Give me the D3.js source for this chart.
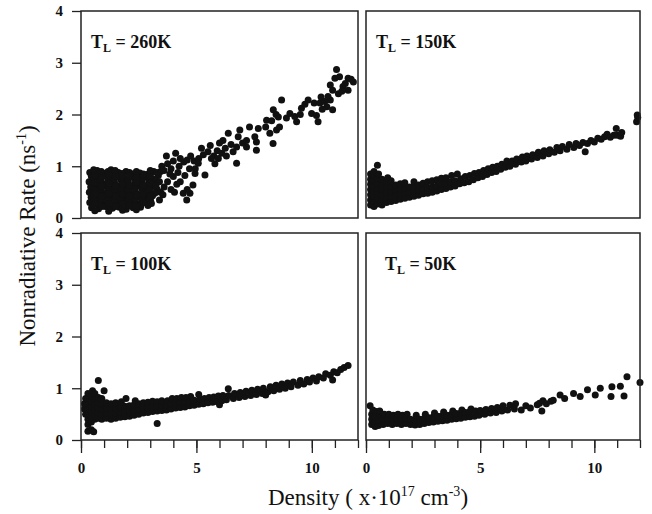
<!DOCTYPE html>
<html>
<head>
<meta charset="utf-8">
<script src="https://cdn.jsdelivr.net/npm/d3@7"></script>
<style>
  body { margin: 0; background: #fff; }
  svg text { font-family: "Liberation Serif", "Times New Roman", "DejaVu Serif", serif; fill: #111; }
</style>
</head>
<body>
<div id="chart"></div>
<script>
// Nonradiative rate vs density, four lattice temperatures
const panelLabels = ["260K", "150K", "100K", "50K"];
const yTicks = [0, 1, 2, 3, 4];
const xMinorTicks = [0, 1, 2, 3, 4, 5, 6, 7, 8, 9, 10, 11, 12];
const xMajorTicks = [0, 5, 10];

const pts260 = [
  [0.38,0.88],[0.7,0.92],[1.02,0.86],[1.3,0.93],[1.62,0.88],[1.95,0.9],[2.24,0.85],[2.55,0.87],[2.85,0.84],[3.15,0.9],
  [0.45,0.8],[0.75,0.78],[1.05,0.82],[1.35,0.77],[1.65,0.81],[1.92,0.76],[2.2,0.8],[2.5,0.78],[2.8,0.79],[3.1,0.76],[3.35,0.82],
  [0.35,0.7],[0.62,0.72],[0.9,0.68],[1.18,0.71],[1.45,0.69],[1.75,0.72],[2.05,0.7],[2.35,0.67],[2.65,0.71],[2.95,0.69],[3.25,0.72],
  [0.42,0.6],[0.72,0.58],[1.0,0.62],[1.3,0.6],[1.58,0.57],[1.88,0.61],[2.15,0.6],[2.45,0.62],[2.75,0.58],[3.05,0.6],
  [0.36,0.5],[0.66,0.52],[0.95,0.48],[1.25,0.51],[1.52,0.49],[1.82,0.52],[2.1,0.5],[2.4,0.48],[2.7,0.51],[3.0,0.49],[3.3,0.55],
  [0.44,0.4],[0.74,0.38],[1.05,0.41],[1.34,0.39],[1.62,0.42],[1.9,0.38],[2.2,0.4],[2.5,0.41],[2.8,0.39],[3.1,0.43],
  [0.38,0.3],[0.68,0.32],[0.98,0.28],[1.28,0.31],[1.56,0.29],[1.86,0.32],[2.14,0.3],[2.44,0.28],[2.74,0.31],[3.02,0.33],
  [0.46,0.2],[0.76,0.18],[1.06,0.22],[1.36,0.19],[1.66,0.21],[1.96,0.17],[2.26,0.2],[2.58,0.21],[2.9,0.24],
  [0.6,0.14],[1.2,0.13],[1.8,0.15],[2.4,0.16],
  [0.53,0.85],[0.85,0.84],[1.17,0.9],[1.47,0.85],[1.78,0.86],[2.1,0.88],[2.4,0.83],[2.7,0.85],[3.0,0.86],[3.28,0.88],
  [0.5,0.65],[0.8,0.66],[1.1,0.64],[1.4,0.66],[1.7,0.63],[2.0,0.66],[2.3,0.64],[2.6,0.66],[2.9,0.63],[3.2,0.66],
  [0.5,0.45],[0.8,0.46],[1.1,0.44],[1.4,0.46],[1.7,0.45],[2.0,0.44],[2.3,0.46],[2.6,0.45],[2.9,0.44],[3.2,0.48],
  [0.52,0.25],[0.82,0.26],[1.12,0.24],[1.42,0.26],[1.72,0.25],[2.02,0.24],[2.32,0.26],[2.62,0.27],[2.92,0.3],
  [0.55,0.55],[0.85,0.56],[1.15,0.54],[1.45,0.56],[1.75,0.55],[2.05,0.54],[2.35,0.56],[2.65,0.55],[2.95,0.55],
  [0.55,0.35],[0.85,0.36],[1.15,0.34],[1.45,0.36],[1.75,0.35],[2.05,0.34],[2.35,0.36],[2.65,0.35],[2.95,0.37],
  [0.55,0.75],[0.85,0.74],[1.15,0.76],[1.45,0.75],[1.75,0.76],[2.05,0.74],[2.35,0.75],[2.65,0.76],[2.95,0.74],[3.25,0.62],
  [0.6,0.83],[0.9,0.8],[1.2,0.84],[1.5,0.8],[1.8,0.82],[2.1,0.81],[2.4,0.79],[2.7,0.82],[3.0,0.8],
  [0.6,0.68],[0.9,0.62],[1.2,0.67],[1.5,0.62],[1.8,0.66],[2.1,0.63],[2.4,0.69],[2.7,0.64],[3.0,0.67],
  [0.6,0.47],[0.9,0.42],[1.2,0.47],[1.5,0.42],[1.8,0.46],[2.1,0.43],[2.4,0.44],[2.7,0.47],[3.0,0.43],
  [0.6,0.28],[0.9,0.22],[1.2,0.28],[1.5,0.22],[1.8,0.28],[2.1,0.24],[2.4,0.22],[2.7,0.3],[3.05,0.28],
  [0.55,0.93],[0.88,0.9],[1.48,0.92],[2.4,0.9],[3.0,0.92],
  [3.45,0.9],[3.4,0.7],[3.45,0.5],
  [3.5,1.0],[3.6,0.92],[3.75,1.05],[3.9,0.95],[4.0,1.1],[3.7,1.2],[4.1,1.25],[4.3,1.15],[4.25,1.0],[4.45,1.08],
  [4.6,1.12],[4.75,1.2],[4.9,1.1],[5.1,1.15],[4.95,0.95],[5.22,1.35],[5.3,1.22],[3.6,0.6],[3.75,0.7],[3.9,0.55],
  [4.0,0.8],[4.15,0.65],[4.3,0.7],[4.43,0.48],[4.58,0.35],[4.72,0.48],[4.85,0.64],[4.2,0.88],[4.5,0.82],[4.6,0.55],
  [3.55,0.45],[3.4,0.35],[3.85,0.85],[4.05,0.5],[4.94,0.86],[5.37,0.83],[5.08,1.06],[4.7,0.95],
  [5.5,1.28],[5.6,1.4],[5.75,1.2],[5.9,1.3],[6.0,1.45],[6.1,1.25],[6.25,1.35],[6.38,1.64],[6.5,1.42],[6.59,1.28],
  [6.74,1.37],[6.74,1.06],[6.81,1.57],[6.88,1.7],[7.0,1.45],[7.17,1.5],[7.17,1.37],[7.3,1.76],[7.53,1.57],[7.6,1.47],
  [7.6,1.31],[7.68,1.73],[5.8,1.05],[5.65,1.15],[6.15,1.5],[6.3,1.2],[5.95,1.15],
  [8.0,1.76],[8.04,1.89],[8.18,1.64],[8.26,1.88],[8.32,1.44],[8.33,2.09],[8.47,1.7],[8.6,1.76],[8.69,2.28],[8.45,2.0],
  [8.55,1.95],[8.9,1.93],[9.05,2.02],[9.26,1.96],[9.34,1.86],[9.55,2.12],[9.7,2.2],[9.84,2.28],[9.99,2.02],[10.1,2.22],
  [10.27,1.86],[10.2,1.98],[10.35,2.22],[10.4,2.34],[10.56,2.25],[10.8,2.28],[10.8,2.57],[10.9,2.47],[10.9,2.09],[11.0,2.7],
  [11.07,2.87],[11.2,2.73],[11.35,2.54],[11.57,2.47],[11.57,2.7],[11.8,2.63],[10.65,2.15],[10.7,2.35],[11.15,2.4],[11.3,2.45],
  [10.45,2.1],[9.5,2.0],[11.45,2.6],[11.7,2.68]
];

const pts150 = [
  [0.2,0.25],[0.2,0.35],[0.2,0.45],[0.2,0.55],[0.2,0.65],[0.2,0.75],[0.2,0.85],
  [0.35,0.22],[0.35,0.32],[0.35,0.42],[0.35,0.52],[0.35,0.62],[0.35,0.72],[0.35,0.82],[0.35,0.9],
  [0.5,1.02],[0.5,0.27],[0.5,0.37],[0.5,0.47],[0.5,0.57],[0.5,0.67],[0.5,0.77],[0.55,0.85],
  [0.7,0.25],[0.7,0.35],[0.7,0.45],[0.7,0.55],[0.7,0.65],[0.7,0.75],
  [0.9,0.3],[0.9,0.4],[0.9,0.5],[0.9,0.6],[0.9,0.7],[0.95,0.78],
  [1.1,0.32],[1.1,0.42],[1.1,0.52],[1.1,0.62],[1.1,0.72],
  [1.3,0.34],[1.3,0.44],[1.3,0.54],[1.3,0.64],
  [1.5,0.36],[1.5,0.46],[1.5,0.56],[1.5,0.66],
  [1.7,0.38],[1.7,0.48],[1.7,0.58],[1.7,0.68],
  [1.9,0.4],[1.9,0.5],[1.9,0.6],
  [2.1,0.42],[2.1,0.52],[2.1,0.62],[2.1,0.7],
  [2.3,0.44],[2.3,0.54],[2.3,0.64],
  [2.5,0.47],[2.5,0.57],[2.5,0.67],
  [2.7,0.48],[2.7,0.58],[2.7,0.7],
  [2.9,0.5],[2.9,0.6],[2.9,0.72],
  [3.1,0.52],[3.1,0.62],[3.1,0.74],
  [3.3,0.55],[3.3,0.65],[3.3,0.77],
  [3.5,0.57],[3.5,0.67],[3.5,0.78],
  [3.7,0.6],[3.7,0.7],[3.75,0.82],
  [3.9,0.62],[3.9,0.72],[4.0,0.85],
  [4.1,0.66],[4.15,0.76],[4.3,0.68],[4.35,0.8],[4.5,0.7],[4.55,0.82],
  [4.7,0.74],[4.75,0.86],[4.9,0.78],[4.95,0.88],[5.1,0.8],[5.15,0.92],
  [5.3,0.84],[5.35,0.95],[5.5,0.88],[5.55,0.98],[5.7,0.9],[5.75,1.0],
  [5.9,0.94],[5.95,1.04],[6.1,0.98],[6.17,1.1],[6.3,1.0],[6.4,1.1],
  [6.55,1.04],[6.6,1.14],[6.8,1.08],[6.85,1.18],[7.0,1.1],[7.05,1.2],
  [7.25,1.14],[7.3,1.22],[7.5,1.17],[7.55,1.27],[7.75,1.2],[7.8,1.3],
  [8.0,1.24],[8.05,1.32],[8.25,1.27],[8.36,1.36],[8.5,1.3],[8.6,1.38],
  [8.8,1.33],[8.9,1.42],[9.1,1.36],[9.2,1.44],[9.35,1.4],[9.6,1.28],
  [9.5,1.46],[9.7,1.44],[9.85,1.5],[10.0,1.47],[10.15,1.54],[10.3,1.52],
  [10.45,1.57],[10.56,1.62],[10.7,1.56],[10.85,1.6],
  [10.96,1.73],[11.0,1.6],[11.15,1.58],[11.2,1.65],
  [11.85,1.86],[11.9,1.94],[11.88,1.99]
];

const pts100 = [
  [0.15,0.6],[0.15,0.7],[0.2,0.5],[0.2,0.8],
  [0.3,0.17],[0.3,0.3],[0.3,0.4],[0.3,0.5],[0.3,0.6],[0.3,0.7],[0.3,0.8],[0.3,0.9],
  [0.45,0.2],[0.45,0.35],[0.45,0.45],[0.45,0.55],[0.45,0.65],[0.45,0.75],[0.45,0.85],[0.5,0.95],
  [0.55,0.16],[0.6,0.4],[0.6,0.5],[0.6,0.6],[0.6,0.7],[0.6,0.8],[0.6,0.9],
  [0.75,1.15],[0.75,0.42],[0.75,0.52],[0.75,0.62],[0.75,0.72],[0.75,0.82],
  [0.9,0.4],[0.9,0.5],[0.9,0.6],[0.9,0.7],[0.9,0.8],[1.0,0.95],
  [1.1,0.42],[1.1,0.52],[1.1,0.62],[1.1,0.72],
  [1.3,0.4],[1.3,0.5],[1.3,0.6],[1.3,0.7],
  [1.5,0.42],[1.5,0.52],[1.5,0.62],[1.5,0.72],
  [1.7,0.44],[1.7,0.54],[1.7,0.64],[1.75,0.74],
  [1.9,0.45],[1.9,0.55],[1.9,0.65],[1.95,0.8],
  [2.1,0.46],[2.1,0.56],[2.1,0.66],
  [2.3,0.48],[2.3,0.58],[2.3,0.68],[2.35,0.76],
  [2.5,0.5],[2.5,0.6],[2.5,0.7],
  [2.7,0.52],[2.7,0.62],[2.7,0.72],
  [2.9,0.53],[2.9,0.63],[2.9,0.73],
  [3.1,0.55],[3.1,0.65],[3.1,0.75],
  [3.3,0.32],[3.3,0.56],[3.3,0.66],[3.3,0.74],
  [3.5,0.57],[3.5,0.67],[3.5,0.76],
  [3.7,0.58],[3.7,0.68],[3.75,0.76],
  [3.9,0.6],[3.9,0.7],[3.95,0.8],
  [4.1,0.62],[4.1,0.72],[4.15,0.8],
  [4.3,0.63],[4.3,0.73],[4.35,0.82],
  [4.5,0.64],[4.5,0.74],[4.55,0.82],
  [4.7,0.66],[4.7,0.75],[4.75,0.84],
  [4.9,0.67],[4.9,0.77],
  [5.1,0.69],[5.15,0.79],[5.1,0.88],
  [5.3,0.7],[5.35,0.8],[5.5,0.72],[5.55,0.82],[5.7,0.73],[5.75,0.83],
  [5.9,0.74],[5.95,0.85],[6.0,0.68],[6.1,0.76],[6.15,0.86],
  [6.38,0.99],[6.3,0.78],[6.4,0.86],[6.6,0.8],[6.65,0.9],
  [6.85,0.82],[6.9,0.92],[7.1,0.84],[7.15,0.94],[7.35,0.86],[7.4,0.96],
  [7.6,0.88],[7.65,0.98],[7.85,0.9],[8.0,0.87],[7.9,1.0],
  [8.1,0.93],[8.2,1.03],[8.35,0.95],[8.45,1.06],[8.6,0.98],[8.7,1.08],
  [8.85,1.0],[8.95,1.1],[9.1,1.03],[9.2,1.12],[9.4,1.06],[9.5,1.15],
  [9.65,1.08],[9.8,1.17],[9.9,1.12],[10.05,1.2],[10.2,1.14],[10.3,1.22],
  [10.5,1.2],[10.6,1.28],[10.8,1.25],[10.9,1.16],[10.95,1.32],
  [11.1,1.3],[11.25,1.36],[11.4,1.4],[11.57,1.44]
];

const pts50 = [
  [0.18,0.66],[0.25,0.3],[0.25,0.4],[0.25,0.5],[0.3,0.58],
  [0.4,0.26],[0.4,0.36],[0.4,0.46],[0.45,0.55],
  [0.55,0.28],[0.55,0.38],[0.6,0.48],[0.6,0.56],
  [0.75,0.3],[0.75,0.4],[0.8,0.5],
  [0.95,0.32],[0.95,0.42],[1.0,0.5],
  [1.15,0.3],[1.15,0.4],[1.2,0.48],
  [1.35,0.32],[1.35,0.42],[1.4,0.5],
  [1.55,0.3],[1.55,0.4],[1.6,0.48],
  [1.75,0.32],[1.75,0.42],[1.8,0.5],
  [1.95,0.3],[1.95,0.4],
  [2.15,0.29],[2.15,0.39],[2.2,0.48],
  [2.35,0.3],[2.35,0.4],
  [2.55,0.32],[2.55,0.42],[2.6,0.5],
  [2.75,0.34],[2.75,0.43],
  [2.95,0.35],[2.95,0.45],[3.0,0.52],
  [3.15,0.36],[3.15,0.46],
  [3.35,0.37],[3.35,0.47],[3.4,0.54],
  [3.55,0.38],[3.55,0.48],
  [3.75,0.4],[3.75,0.5],[3.8,0.56],
  [3.95,0.41],[3.95,0.51],
  [4.15,0.42],[4.15,0.52],[4.2,0.58],
  [4.35,0.44],[4.35,0.53],
  [4.55,0.45],[4.55,0.55],[4.6,0.6],
  [4.75,0.46],[4.8,0.56],[4.95,0.48],[5.0,0.57],
  [5.2,0.5],[5.25,0.59],[5.45,0.52],[5.5,0.61],
  [5.7,0.53],[5.75,0.63],[5.95,0.56],[6.0,0.66],
  [6.2,0.58],[6.3,0.67],[6.5,0.6],[6.55,0.7],
  [6.8,0.58],[7.0,0.66],[7.2,0.62],
  [7.5,0.68],[7.6,0.71],[7.7,0.56],[7.75,0.76],[7.9,0.7],[8.1,0.75],[8.2,0.77],
  [8.5,0.87],[8.7,0.8],[9.09,0.9],[9.38,0.84],[9.7,0.97],[10.04,0.87],[10.26,1.0],
  [10.73,0.84],[10.77,1.03],[11.14,1.04],[11.3,0.85],[11.43,1.22],[12.0,1.11]
];

const panelData = [pts260, pts150, pts100, pts50];

const width = 652;
const height = 514;
const serif = "'Liberation Serif', 'Times New Roman', 'DejaVu Serif', serif";

const svg = d3.select("#chart")
    .append("svg")
    .attr("width", width)
    .attr("height", height);

// panel boxes: [left, right, top, bottom]
const boxes = [
    [81, 358, 11, 218],
    [366, 640, 11, 218],
    [81, 358, 233, 440],
    [366, 640, 233, 440]
];

boxes.forEach((b, i) => {
    const x = d3.scaleLinear().domain([0, 12]).range([b[0], b[1]]);
    const y = d3.scaleLinear().domain([0, 4]).range([b[3], b[2]]);
    const g = svg.append("g");

    // points
    g.append("g")
        .selectAll("circle")
        .data(panelData[i])
        .enter().append("circle")
        .attr("cx", d => x(d[0]))
        .attr("cy", d => y(d[1]))
        .attr("r", 3.5)
        .attr("fill", "#111");

    // frame
    g.append("rect")
        .attr("x", b[0])
        .attr("y", b[2])
        .attr("width", b[1] - b[0])
        .attr("height", b[3] - b[2])
        .attr("fill", "none")
        .attr("stroke", "#222")
        .attr("stroke-width", 1.5);

    // y axis on left column
    if (i % 2 === 0) {
        const ya = g.append("g")
            .attr("transform", `translate(${b[0]},0)`)
            .call(d3.axisLeft(y).tickValues(yTicks).tickSize(9).tickSizeOuter(0).tickPadding(9).tickFormat(d3.format("d")));
        ya.select(".domain").remove();
        ya.selectAll("line").attr("stroke", "#222").attr("stroke-width", 1.3);
        ya.selectAll("text")
            .attr("font-family", serif)
            .style("font-family", serif)
            .style("font-size", "15px")
            .style("font-weight", "bold");
    }

    // x axis on bottom row
    if (i >= 2) {
        const xa = g.append("g")
            .attr("transform", `translate(0,${b[3]})`)
            .call(d3.axisBottom(x).tickValues(xMinorTicks).tickSize(8).tickSizeOuter(0).tickFormat(""));
        xa.select(".domain").remove();
        xa.selectAll("line").attr("stroke", "#222").attr("stroke-width", 1.3);

        const xb = g.append("g")
            .attr("transform", `translate(0,${b[3]})`)
            .call(d3.axisBottom(x).tickValues(xMajorTicks).tickSize(13).tickSizeOuter(0).tickPadding(9).tickFormat(d3.format("d")));
        xb.select(".domain").remove();
        xb.selectAll("line").attr("stroke", "#222").attr("stroke-width", 1.3);
        xb.selectAll("text")
            .attr("font-family", serif)
            .style("font-family", serif)
            .style("font-size", "15px")
            .style("font-weight", "bold");
    }

    // panel label
    const lx = i === 3 ? b[0] + 19 : b[0] + 10;
    const lab = g.append("text")
        .attr("x", lx)
        .attr("y", b[2] + 37)
        .style("font-family", serif)
        .style("font-size", "18px")
        .style("font-weight", "bold");
    lab.append("tspan").text("T");
    lab.append("tspan").attr("dy", 4).style("font-size", "12px").text("L");
    lab.append("tspan").attr("dy", -4).text(" = " + panelLabels[i]);
});

// axis titles
const yTitle = svg.append("text")
    .attr("transform", "translate(35,236) rotate(-90)")
    .attr("text-anchor", "middle")
    .style("font-family", serif)
    .style("font-size", "23px");
yTitle.append("tspan").text("Nonradiative Rate (ns");
yTitle.append("tspan").attr("dy", -9).style("font-size", "14px").text("-1");
yTitle.append("tspan").attr("dy", 9).text(")");

const xTitle = svg.append("text")
    .attr("x", 368)
    .attr("y", 505)
    .attr("text-anchor", "middle")
    .style("font-family", serif)
    .style("font-size", "23px");
xTitle.append("tspan").text("Density ( x");
xTitle.append("tspan").text("\u00b7");
xTitle.append("tspan").text("10");
xTitle.append("tspan").attr("dy", -9).style("font-size", "14px").text("17");
xTitle.append("tspan").attr("dy", 9).text(" cm");
xTitle.append("tspan").attr("dy", -9).style("font-size", "14px").text("-3");
xTitle.append("tspan").attr("dy", 9).text(")");
</script>
</body>
</html>
